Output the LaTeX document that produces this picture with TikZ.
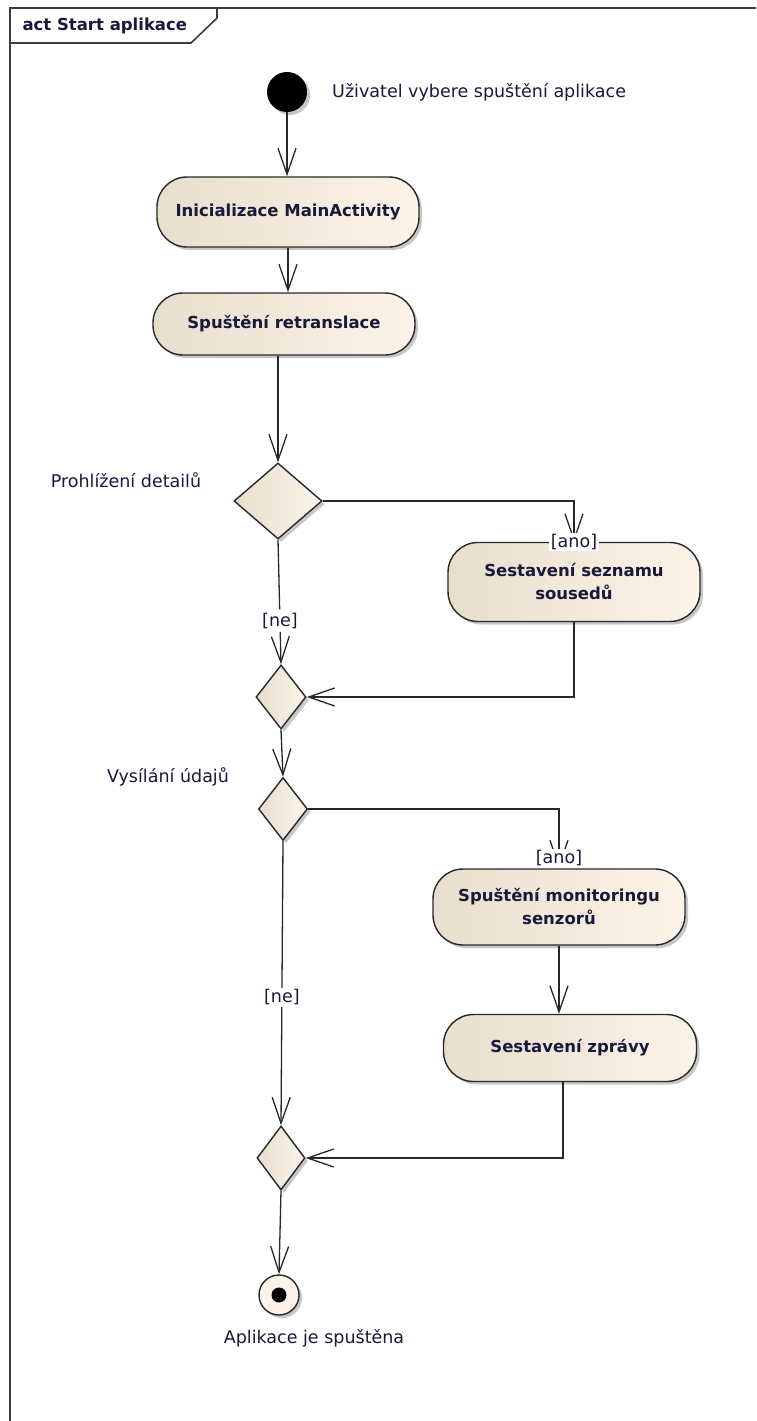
\documentclass[tikz,border=0pt]{standalone}
\usepackage{fontspec}
\setmainfont{DejaVu Sans}
\usetikzlibrary{arrows.meta,shapes.geometric,shadows,calc}
\definecolor{fillL}{RGB}{232,222,206}
\definecolor{fillR}{RGB}{252,244,232}
\definecolor{edge}{RGB}{40,40,40}
\definecolor{framec}{RGB}{60,60,60}
\definecolor{txt}{RGB}{25,25,60}

\begin{document}
\begin{tikzpicture}[x=1pt,y=-1pt,
  softshadow/.style={drop shadow={shadow xshift=3pt,shadow yshift=-3pt,fill=black,opacity=0.22}},
  flow/.style={draw=edge,line width=1.3pt,
    -{Straight Barb[length=26pt,width=18pt,line width=1.3pt]}},
  plainline/.style={draw=edge,line width=1.3pt},
  actbox/.style={rectangle,rounded corners=30pt,draw=edge,line width=1.4pt,
    left color=fillL,right color=fillR,softshadow,
    font=\fontsize{16.5}{23}\selectfont\bfseries,text=txt,align=center,inner sep=0pt},
  decision/.style={diamond,draw=edge,line width=1.4pt,left color=fillL,right color=fillR,
    inner sep=0pt,softshadow},
  note/.style={font=\fontsize{17.5}{21}\selectfont,text=txt,inner sep=0pt},
  guard/.style={note,fill=white,inner sep=1.5pt}
]
\useasboundingbox (0,0) rectangle (756,1421);

% diagram frame with its name tab
\draw[draw=framec,line width=2pt] (10,1421) -- (10,8) -- (756,8);
\draw[draw=framec,line width=1.6pt] (10,43) -- (191,43) -- (217,18) -- (217,8);
\node[font=\fontsize{16.5}{20}\selectfont\bfseries,text=txt,anchor=west] (title) at (19,26) {act Start aplikace};

% start
\node[circle,fill=black,minimum size=40pt,inner sep=0pt,softshadow] (init) at (287,92) {};
\node[note,anchor=west] (initlbl) at (332,92) {Uživatel vybere spuštění aplikace};

% actions
\node[actbox,minimum width=262pt,minimum height=70pt] (a1) at (288,212) {Inicializace MainActivity};
\node[actbox,minimum width=262pt,minimum height=62pt] (a2) at (284,324) {Spuštění retranslace};
\node[actbox,minimum width=252pt,minimum height=79pt] (a3) at (574,582) {Sestavení seznamu\\sousedů};
\node[actbox,minimum width=252pt,minimum height=76pt] (a4) at (559,907) {Spuštění monitoringu\\senzorů};
\node[actbox,minimum width=253pt,minimum height=67pt] (a5) at (570,1048) {Sestavení zprávy};

% decisions and merges
\node[decision,minimum width=88pt,minimum height=76pt] (d1) at (278,501) {};
\node[note] (d1lbl) at (126,480) {Prohlížení detailů};
\node[decision,minimum width=50pt,minimum height=64pt] (d2) at (281,697) {};
\node[decision,minimum width=49pt,minimum height=63pt] (d3) at (283,809) {};
\node[note] (d3lbl) at (168,777) {Vysílání údajů};
\node[decision,minimum width=48pt,minimum height=64pt] (d4) at (281,1158) {};

% end
\node[circle,draw=edge,line width=1.4pt,fill=fillR,minimum size=40pt,inner sep=0pt,softshadow] (final) at (279,1295) {};
\node[circle,fill=black,minimum size=15pt,inner sep=0pt] (finaldot) at (final.center) {};
\node[note] (finallbl) at (314,1338) {Aplikace je spuštěna};

% control flows
\draw[flow] (init) -- (init |- a1.north);
\draw[flow] (a1.south) -- (a1.south |- a2.north);
\draw[flow] (d1.north |- a2.south) -- (d1.north);

\draw[flow] (d1.east) -| (a3.north);
\node[guard] (g1) at (a3.north) {[ano]};

\draw[plainline] (d1.south) -- ($(d1.south)!0.56!(d2.north)$) coordinate (n1a);
\node[guard,fill=none] (g2) at ($(d1.south)!0.65!(d2.north)$) {[ne]};
\draw[flow] ($(d1.south)!0.74!(d2.north)$) -- (d2.north);
\draw[flow] (a3.south) |- (d2.east);

\draw[flow] (d2.south) -- (d3.north);

\draw[flow] (d3.east) -| (a4.north);
\node[guard] (g3) at ([yshift=10pt]a4.north) {[ano]};

\draw[flow] (d3.south) -- (d4.north);
\node[guard] (g4) at ($(d3.south)!0.55!(d4.north)$) {[ne]};

\draw[flow] (a4.south) -- (a4.south |- a5.north);
\draw[flow] ([xshift=-7pt]a5.south) |- (d4.east);

\draw[flow] (d4.south) -- (final.north);
\end{tikzpicture}
\end{document}
